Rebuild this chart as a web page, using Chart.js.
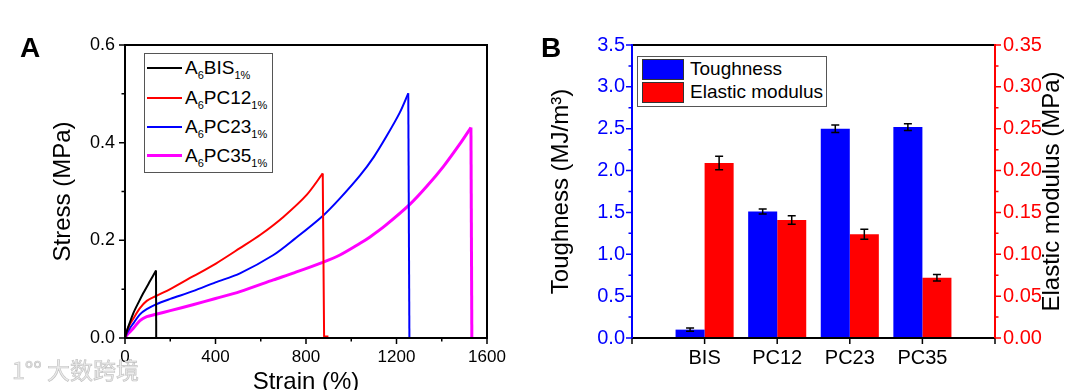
<!DOCTYPE html>
<html>
<head>
<meta charset="utf-8">
<script src="https://cdn.jsdelivr.net/npm/chart.js@4.4.0/dist/chart.umd.min.js"></script>
<style>
  html, body { margin: 0; padding: 0; background: #fff; overflow: hidden; }
  #wrap { position: relative; width: 1080px; height: 390px; overflow: hidden;
          font-family: "Liberation Sans", Arial, sans-serif; color: #000; }
  canvas { position: absolute; top: 0; }
  #chartA { left: 0; }
  #chartB { left: 540px; }
  .letter { position: absolute; top: 34px; font-weight: bold; font-size: 28px; line-height: 28px; }
  .legend { position: absolute; background: #fff; border: 1px solid #555; box-sizing: border-box; }
  .row { position: absolute; left: 0; height: 28px; line-height: 28px; font-size: 19px; white-space: nowrap; }
  .row .ln { position: absolute; left: 2px; width: 35px; }
  .row .tx { position: absolute; left: 40px; top: 0; }
  .row sub { font-size: 11px; vertical-align: baseline; position: relative; top: 5px; }
  .sw { position: absolute; left: 4px; width: 42px; height: 21px; box-sizing: border-box; border: 1px solid #333; }
  .lt { position: absolute; left: 52px; font-size: 19px; line-height: 22px; }
  #mark { position: absolute; left: 12px; top: 352px; font-size: 23px; color: #ececec;
          -webkit-text-stroke: 0.7px #c4c4c4; font-family: "Noto Sans CJK SC", sans-serif; }
</style>
</head>
<body>
<div id="wrap">
  <canvas id="chartA" width="540" height="400"></canvas>
  <canvas id="chartB" width="540" height="400"></canvas>
  <div class="letter" style="left:20px">A</div>
  <div class="letter" style="left:541px">B</div>
  <div class="legend" id="legA" style="left:144px; top:53px; width:129px; height:120px"></div>
  <div class="legend" id="legB" style="left:637px; top:56px; width:190px; height:51px"></div>
  <div id="mark">1°° 大数跨境</div>
</div>
<script>
// ---- panel A: stress-strain curves ----
const seriesNames = ["BIS", "PC12", "PC23", "PC35"];
const seriesColors = ["#000000", "#ff0000", "#0000ff", "#ff00ff"];
const seriesWidths = [2, 2, 2, 3];

const strainBIS = [0, 8, 20, 37, 60, 81, 110, 137];
const stressBIS = [0, 0.014, 0.030, 0.051, 0.073, 0.092, 0.116, 0.138];
const dropBISx = [137, 138];
const dropBISy = [0.138, 0];

const strainPC12 = [0, 10, 20, 37, 66, 96, 137, 200, 300, 400, 508, 600, 700, 803, 874];
const stressPC12 = [0, 0.016, 0.027, 0.040, 0.061, 0.076, 0.086, 0.100, 0.126, 0.152, 0.184, 0.212, 0.248, 0.293, 0.337];
const dropPC12x = [874, 880, 899];
const dropPC12y = [0.337, 0.003, 0.003];

const strainPC23 = [0, 10, 20, 37, 66, 96, 137, 200, 300, 400, 508, 656, 750, 874, 950, 1039, 1100, 1157, 1215, 1252];
const stressPC23 = [0, 0.011, 0.019, 0.030, 0.0485, 0.059, 0.069, 0.080, 0.096, 0.114, 0.1325, 0.170, 0.203, 0.250, 0.286, 0.333, 0.371, 0.414, 0.462, 0.501];
const dropPC23x = [1252, 1257];
const dropPC23y = [0.501, 0];

const strainPC35 = [0, 10, 20, 37, 66, 96, 137, 200, 300, 400, 508, 656, 750, 874, 950, 1039, 1083, 1150, 1260, 1333, 1407, 1481, 1529];
const stressPC35 = [0, 0.007, 0.012, 0.020, 0.0355, 0.0436, 0.0485, 0.056, 0.068, 0.081, 0.095, 0.119, 0.134, 0.155, 0.170, 0.194, 0.207, 0.230, 0.274, 0.310, 0.351, 0.398, 0.431];
const dropPC35x = [1529, 1533];
const dropPC35y = [0.431, 0];

const strainTicks = [0, 400, 800, 1200, 1600];
const stressTicks = [0, 0.2, 0.4, 0.6];

// ---- panel B: toughness / modulus bars ----
const categories = ["BIS", "PC12", "PC23", "PC35"];
const toughness = [0.10, 1.51, 2.50, 2.52];
const toughnessErr = [0.02, 0.03, 0.045, 0.04];
const modulus = [0.209, 0.141, 0.124, 0.072];
const modulusErr = [0.008, 0.005, 0.006, 0.004];

Chart.defaults.font.family = "'Liberation Sans', Arial, sans-serif";
Chart.defaults.color = "#000";

const pts = (xs, ys) => xs.map((x, i) => ({ x, y: ys[i] }));

// ticks drawn outward, with a minor tick between majors
function drawTicks(ctx, scale, side, color, minor) {
  const vals = scale.ticks.map(t => t.value);
  const marks = [];
  vals.forEach((v, i) => {
    marks.push([scale.getPixelForValue(v), 6]);
    if (minor && i < vals.length - 1) marks.push([scale.getPixelForValue((v + vals[i + 1]) / 2), 3.5]);
  });
  ctx.save();
  ctx.strokeStyle = color;
  ctx.lineWidth = 1.5;
  ctx.beginPath();
  marks.forEach(([p, len]) => {
    if (side === "bottom") { ctx.moveTo(p, scale.top); ctx.lineTo(p, scale.top + len); }
    if (side === "left") { ctx.moveTo(scale.right, p); ctx.lineTo(scale.right - len, p); }
    if (side === "right") { ctx.moveTo(scale.left, p); ctx.lineTo(scale.left + len, p); }
  });
  ctx.stroke();
  ctx.restore();
}

function line(ctx, x1, y1, x2, y2, color) {
  ctx.save();
  ctx.strokeStyle = color;
  ctx.lineWidth = 2;
  ctx.beginPath();
  ctx.moveTo(x1, y1);
  ctx.lineTo(x2, y2);
  ctx.stroke();
  ctx.restore();
}

const frameA = {
  id: "frameA",
  afterDatasetsDraw(chart) {
    const { ctx, chartArea: a } = chart;
    ctx.save();
    ctx.strokeStyle = "#000";
    ctx.lineWidth = 2;
    ctx.strokeRect(a.left, a.top, a.right - a.left, a.bottom - a.top);
    ctx.restore();
    drawTicks(ctx, chart.scales.x, "bottom", "#000", true);
    drawTicks(ctx, chart.scales.y, "left", "#000", true);
  }
};

const curveSets = [
  [strainBIS, stressBIS, dropBISx, dropBISy],
  [strainPC12, stressPC12, dropPC12x, dropPC12y],
  [strainPC23, stressPC23, dropPC23x, dropPC23y],
  [strainPC35, stressPC35, dropPC35x, dropPC35y]
];
const datasetsA = [];
curveSets.forEach((c, i) => {
  const base = { borderColor: seriesColors[i], borderWidth: seriesWidths[i], pointRadius: 0, showLine: true, fill: false };
  datasetsA.push({ ...base, label: seriesNames[i], data: pts(c[0], c[1]), tension: 0.3 });
  datasetsA.push({ ...base, label: seriesNames[i] + " break", data: pts(c[2], c[3]), tension: 0 });
});

new Chart(document.getElementById("chartA"), {
  type: "scatter",
  data: { datasets: datasetsA },
  options: {
    responsive: false,
    animation: false,
    layout: { padding: { top: 45, right: 53, left: 0, bottom: 0 } },
    plugins: { legend: { display: false }, tooltip: { enabled: false } },
    scales: {
      x: {
        type: "linear", min: 0, max: 1600,
        afterBuildTicks: s => { s.ticks = strainTicks.map(v => ({ value: v })); },
        afterFit: s => { s.height = 62; },
        grid: { display: false, drawTicks: false },
        border: { display: false },
        ticks: { font: { size: 17 }, padding: 9, maxRotation: 0, callback: v => String(v) },
        title: { display: true, text: "Strain (%)", font: { size: 24 }, padding: { top: 0, bottom: 3 } }
      },
      y: {
        type: "linear", min: 0, max: 0.6,
        afterBuildTicks: s => { s.ticks = stressTicks.map(v => ({ value: v })); },
        afterFit: s => { s.width = 125; },
        grid: { display: false, drawTicks: false },
        border: { display: false },
        ticks: { font: { size: 18 }, padding: 10, callback: v => Number(v).toFixed(1) },
        title: { display: true, text: "Stress (MPa)", font: { size: 24 }, padding: { top: 49, bottom: 0 } }
      }
    }
  },
  plugins: [frameA]
});

// legend A
const legA = document.getElementById("legA");
seriesNames.forEach((n, i) => {
  const row = document.createElement("div");
  row.className = "row";
  row.style.top = (14.3 + i * 29.2 - 14) + "px";
  row.innerHTML = '<span class="ln" style="top:' + (14 - seriesWidths[i] / 2) + 'px;height:' + seriesWidths[i] +
    'px;background:' + seriesColors[i] + '"></span><span class="tx">A<sub>6</sub>' + n + '<sub>1%</sub></span>';
  legA.appendChild(row);
});

// ---- chart B ----
const axisB = {
  id: "axisB",
  afterDatasetsDraw(chart) {
    const { ctx, chartArea: a } = chart;
    // error bars
    chart.data.datasets.forEach((ds, di) => {
      const meta = chart.getDatasetMeta(di);
      const sc = chart.scales[ds.yAxisID];
      ctx.save();
      ctx.strokeStyle = "#000";
      ctx.lineWidth = 1.5;
      ctx.beginPath();
      meta.data.forEach((bar, i) => {
        const v = ds.data[i];
        if (v == null) return;
        const e = ds.errors[i];
        const y1 = sc.getPixelForValue(v + e), y2 = sc.getPixelForValue(v - e);
        ctx.moveTo(bar.x, y1); ctx.lineTo(bar.x, y2);
        ctx.moveTo(bar.x - 4, y1); ctx.lineTo(bar.x + 4, y1);
        ctx.moveTo(bar.x - 4, y2); ctx.lineTo(bar.x + 4, y2);
      });
      ctx.stroke();
      ctx.restore();
    });
    line(ctx, a.left, a.top, a.right, a.top, "#000");
    line(ctx, a.left - 1, a.bottom, a.right + 1, a.bottom, "#000");
    line(ctx, a.left, a.top - 1, a.left, a.bottom + 1, "#0000ff");
    line(ctx, a.right, a.top - 1, a.right, a.bottom + 1, "#ff0000");
    drawTicks(ctx, chart.scales.x, "bottom", "#000", false);
    drawTicks(ctx, chart.scales.y, "left", "#0000ff", true);
    drawTicks(ctx, chart.scales.y1, "right", "#ff0000", true);
    // right axis title, reading bottom to top
    ctx.save();
    ctx.translate(a.right + 57, (a.top + a.bottom) / 2);
    ctx.rotate(-Math.PI / 2);
    ctx.font = "24px 'Liberation Sans', Arial, sans-serif";
    ctx.fillStyle = "#000";
    ctx.textAlign = "center";
    ctx.textBaseline = "middle";
    ctx.fillText("Elastic modulus (MPa)", 0, 0);
    ctx.restore();
  }
};

new Chart(document.getElementById("chartB"), {
  type: "bar",
  data: {
    labels: ["", ...categories, ""],
    datasets: [
      { label: "Toughness", data: [null, ...toughness, null], errors: [0, ...toughnessErr, 0],
        backgroundColor: "#0000ff", yAxisID: "y", categoryPercentage: 0.8, barPercentage: 1.0 },
      { label: "Elastic modulus", data: [null, ...modulus, null], errors: [0, ...modulusErr, 0],
        backgroundColor: "#ff0000", yAxisID: "y1", categoryPercentage: 0.8, barPercentage: 1.0 }
    ]
  },
  options: {
    responsive: false,
    animation: false,
    layout: { padding: { top: 45, right: 0, left: 0, bottom: 0 } },
    plugins: { legend: { display: false }, tooltip: { enabled: false } },
    scales: {
      x: {
        offset: false,
        afterFit: s => { s.height = 62; },
        grid: { display: false, drawTicks: false },
        border: { display: false },
        ticks: { font: { size: 20 }, padding: 8, maxRotation: 0, autoSkip: false }
      },
      y: {
        position: "left", min: 0, max: 3.5,
        afterFit: s => { s.width = 92; },
        grid: { display: false, drawTicks: false },
        border: { display: false },
        ticks: { stepSize: 0.5, color: "#0000ff", font: { size: 20 }, padding: 7, callback: v => Number(v).toFixed(1) },
        title: { display: true, text: "Toughness (MJ/m³)", font: { size: 24 }, padding: { top: 7, bottom: 0 } }
      },
      y1: {
        position: "right", min: 0, max: 0.35,
        afterFit: s => { s.width = 85; },
        grid: { display: false, drawTicks: false },
        border: { display: false },
        ticks: { stepSize: 0.05, color: "#ff0000", font: { size: 20 }, padding: 8, callback: v => Number(v).toFixed(2) }
      }
    }
  },
  plugins: [axisB]
});

// legend B
const legB = document.getElementById("legB");
[["Toughness", "#0000ff", 2, 13], ["Elastic modulus", "#ff0000", 25, 36]].forEach(([t, c, top, mid]) => {
  legB.insertAdjacentHTML("beforeend",
    '<div class="sw" style="top:' + top + 'px;background:' + c + '"></div>' +
    '<div class="lt" style="top:' + (mid - 12) + 'px">' + t + '</div>');
});
</script>
</body>
</html>
